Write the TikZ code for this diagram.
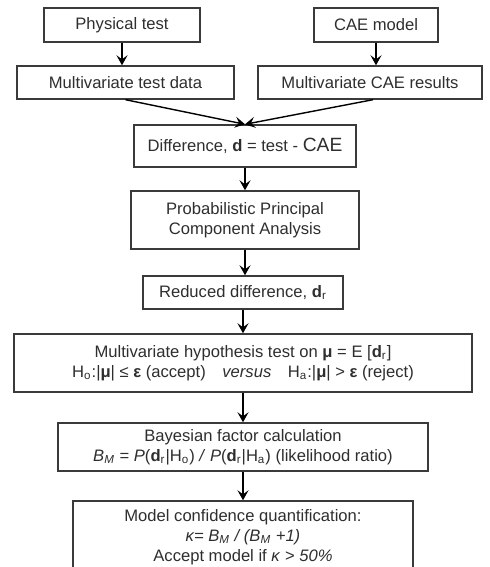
\documentclass[tikz,border=0pt]{standalone}
\usepackage{fontspec}
\setmainfont{Liberation Sans}
\usepackage{xcolor}
\definecolor{cLine}{HTML}{3A3A3A}
\definecolor{cText}{HTML}{2E2E2E}
\usepackage{tikz}
\usetikzlibrary{positioning,arrows.meta,calc}
\tikzset{
  node-box/.style={draw=cLine,line width=0.7pt,inner xsep=3pt,inner ysep=0pt,align=center,
    text=cText,font=\fontsize{8.3}{10}\selectfont},
  arrow/.style={-{Stealth[length=5pt,width=5.5pt,inset=2pt]},line width=0.7pt,draw=black},
}

\begin{document}
\begin{tikzpicture}[x=0.5pt,y=-0.5pt]
  \clip (0,0) rectangle (490,567);

  % inputs
  \node[node-box,minimum width=78pt,minimum height=17pt] (phys) at (122,25) {Physical test};
  \node[node-box,minimum width=62pt,minimum height=17pt] (cae) at (376,25) {CAE model};
  \node[node-box,minimum width=108.5pt,minimum height=16.5pt] (tdata) at (125.5,82.5) {Multivariate test data};
  \node[node-box,minimum width=112pt,minimum height=16.5pt] (cres) at (370,82.5) {Multivariate CAE results};

  % main chain
  \node[node-box,minimum width=111pt,minimum height=21pt] (diff) at (245,146)
    {Difference, \textbf{d} = test - {\fontsize{9.6}{10}\selectfont CAE}};
  \node[node-box,minimum width=114pt,minimum height=29pt] (ppca) at (245,220)
    {Probabilistic Principal\\Component Analysis};
  \node[node-box,minimum width=100pt,minimum height=16.5pt] (red) at (243,292.5)
    {Reduced difference, \textbf{d}\textsubscript{r}};
  \node[node-box,minimum width=229pt,minimum height=29pt] (hyp) at (243,363)
    {Multivariate hypothesis test on \textbf{μ} = E [\textbf{d}\textsubscript{r}]\\
     H\textsubscript{o}:|\textbf{μ}| ≤ \textbf{ε} (accept)\quad\textit{versus}\quad
     H\textsubscript{a}:|\textbf{μ}| > \textbf{ε} (reject)};
  \node[node-box,minimum width=185pt,minimum height=24pt] (bayes) at (243,447)
    {Bayesian factor calculation\\
     \textit{B\textsubscript{M}} = \textit{P}(\textbf{d}\textsubscript{r}|H\textsubscript{o})
     \textit{/} \textit{P}(\textbf{d}\textsubscript{r}|H\textsubscript{a}) (likelihood ratio)};
  \node[node-box,minimum width=170pt,minimum height=36pt] (model) at (243,537)
    {Model confidence quantification:\\
     \textit{κ= B\textsubscript{M} / (B\textsubscript{M} +1)}\\
     Accept model if \textit{κ} > \textit{50\%}};

  % connectors
  \draw[arrow] (phys.south) -- (phys.south |- tdata.north);
  \draw[arrow] (cae.south) -- (cae.south |- cres.north);
  \draw[arrow] (tdata.south) -- (diff.north);
  \draw[arrow] ([xshift=1.5pt]cres.south) -- (diff.north);
  \draw[arrow] (diff.south) -- (diff.south |- ppca.north);
  \draw[arrow] (ppca.south) -- (ppca.south |- red.north);
  \draw[arrow] (red.south) -- (red.south |- hyp.north);
  \draw[arrow] (hyp.south) -- (hyp.south |- bayes.north);
  \draw[arrow] (bayes.south) -- (bayes.south |- model.north);
\end{tikzpicture}
\end{document}
